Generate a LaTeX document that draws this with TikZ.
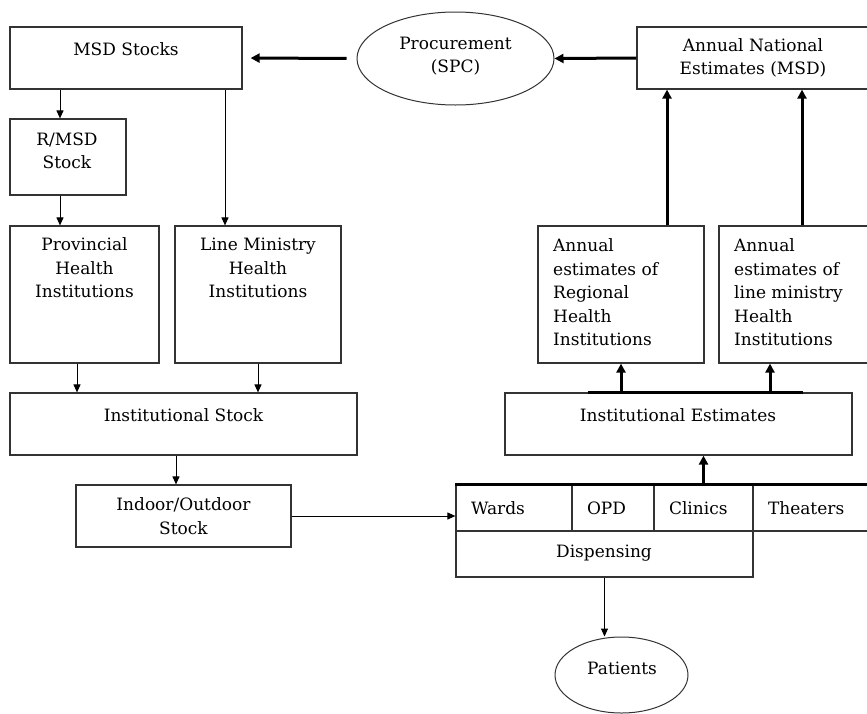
\documentclass[tikz,border=0pt]{standalone}
\usepackage{fontspec}
\setmainfont{DejaVu Serif}
\usepackage{tikz}
\usetikzlibrary{arrows.meta,shapes.geometric}

\begin{document}
\begin{tikzpicture}[
        x=1pt, y=-1pt,
        box/.style={draw=black!80, line width=1.2pt, inner sep=0pt},
        oval/.style={draw=black!80, ellipse, line width=1pt, inner sep=0pt},
        txt/.style={inner sep=0pt, align=center, font=\fontsize{17}{23.5}\selectfont},
        ltxt/.style={txt, align=left, anchor=west},
        cell/.style={box, minimum height=46pt, inner xsep=15pt, align=left, font=\fontsize{17}{23.5}\selectfont},
        flow/.style={line width=1pt, -{Triangle[length=8pt,width=7pt]}},
        heavy/.style={line width=3pt, -{Triangle[length=9pt,width=9pt]}}
    ]
    \clip (0,0) rectangle (867,713);

    % Nodes
    \node[box, minimum width=232pt, minimum height=62pt] (msd) at (126,58) {};
    \node[txt] at (126,49) {MSD Stocks};
    \node[oval, minimum width=197pt, minimum height=93pt] (proc) at (455.5,58.5) {};
    \node[txt] at (455.5,56) {Procurement\\(SPC)};
    \node[box, minimum width=233pt, minimum height=62pt] (anat) at (753.5,58) {};
    \node[txt] at (753,58) {Annual National\\Estimates (MSD)};

    \node[box, minimum width=116pt, minimum height=76pt] (rmsd) at (68,157) {};
    \node[txt] at (67,151) {R/MSD\\Stock};
    \node[box, minimum width=149pt, minimum height=137pt] (prov) at (84.5,294.5) {};
    \node[txt] at (84.5,268) {Provincial\\Health\\Institutions};
    \node[box, minimum width=166pt, minimum height=137pt] (linemin) at (258,294.5) {};
    \node[txt] at (258,268) {Line Ministry\\Health\\Institutions};
    \node[box, minimum width=347pt, minimum height=62pt] (instock) at (183.5,424) {};
    \node[txt] at (183.5,415) {Institutional Stock};
    \node[box, minimum width=215pt, minimum height=62pt] (indoor) at (183.5,516) {};
    \node[txt] at (183.5,516) {Indoor/Outdoor\\Stock};

    \node[box, minimum width=166pt, minimum height=137pt] (regional) at (621,294.5) {};
    \node[ltxt] at (553,292.5) {Annual\\estimates of\\Regional\\Health\\Institutions};
    \node[box, minimum width=151pt, minimum height=137pt] (lmest) at (794.5,294.5) {};
    \node[ltxt] at (734,292.5) {Annual\\estimates of\\line ministry\\Health\\Institutions};
    \node[box, minimum width=347pt, minimum height=62pt] (instest) at (678.5,424) {};
    \node[txt] at (678,415) {Institutional Estimates};

    \node[cell, text width=86pt] (wards) at (514,508) {Wards};
    \node[cell, text width=52pt] (opd) at (613,508) {OPD};
    \node[cell, text width=69pt] (clinics) at (703.5,508) {Clinics};
    \node[cell, text width=87pt] (theaters) at (811.5,508) {Theaters};
    \node[box, minimum width=297pt, minimum height=46pt] (disp) at (604.5,554) {};
    \node[txt] at (604,553) {Dispensing};
    \node[oval, minimum width=133pt, minimum height=76pt] (patients) at (621.5,675) {};
    \node[txt] at (622,668) {Patients};

    % Edges
    \draw[heavy, shorten <=10pt, shorten >=8pt] (proc.west) -- (msd.east);
    \draw[heavy] (anat.west) -- (proc.east);
    \draw[flow] ([xshift=-66pt]msd.south) -- ([xshift=-8pt]rmsd.north);
    \draw[flow] ([xshift=99pt]msd.south) -- ([xshift=-33pt]linemin.north);
    \draw[flow] ([xshift=-8pt]rmsd.south) -- ([xshift=-24.5pt]prov.north);
    \draw[flow] ([xshift=-7.5pt]prov.south) -- ([xshift=-106.5pt]instock.north);
    \draw[flow] (linemin.south) -- ([xshift=74.5pt]instock.north);
    \draw[flow] ([xshift=-7.5pt]instock.south) -- ([xshift=-7.5pt]indoor.north);
    \draw[flow] (indoor.east) -- (indoor.east -| wards.west);
    \draw[line width=3pt] (wards.north west) -- (theaters.north east);
    \draw[heavy] (clinics.north) -- (clinics.north |- instest.south);
    \draw[line width=2.5pt] ([xshift=-90.5pt]instest.north) -- ([xshift=124.5pt]instest.north);
    \draw[heavy] (regional.south |- instest.north) -- (regional.south);
    \draw[heavy] ([xshift=-24.5pt]lmest.south |- instest.north) -- ([xshift=-24.5pt]lmest.south);
    \draw[heavy] ([xshift=46pt]regional.north) -- ([xshift=-86.5pt]anat.south);
    \draw[heavy] ([xshift=7.5pt]lmest.north) -- ([xshift=48.5pt]anat.south);
    \draw[flow] (disp.south) -- (disp.south |- patients.north);

\end{tikzpicture}
\end{document}
